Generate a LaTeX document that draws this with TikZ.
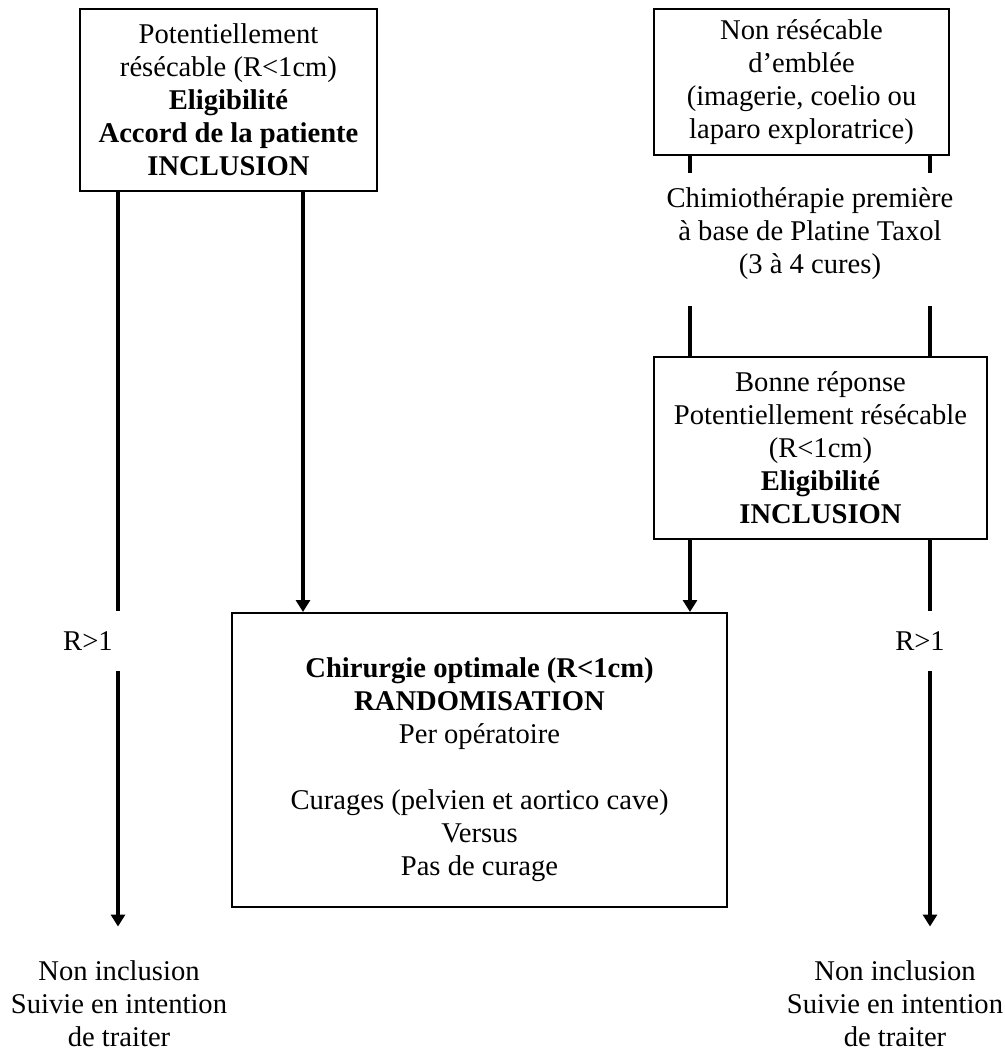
\documentclass[tikz,border=0pt]{standalone}
\usepackage{fontspec}
\setmainfont{Liberation Serif}
\usetikzlibrary{arrows.meta}

\begin{document}
\begin{tikzpicture}[x=0.5pt,y=-0.5pt,%
  font=\fontsize{14.3}{16.5}\selectfont,%
  boite/.style={draw,line width=1pt,inner sep=0pt,align=center},%
  texte/.style={inner sep=0pt,align=center},%
  rsup/.style={inner xsep=0pt,inner ysep=10pt},%
  trait/.style={line width=1.9pt},%
  fleche/.style={trait,-{Triangle[length=6pt,width=7pt]}}]%
\useasboundingbox (0,0) rectangle (1005,1050);%
\coordinate (xg) at (118,0);%
\coordinate (xm) at (303,0);%
\coordinate (xc) at (690,0);%
\coordinate (xd) at (930,0);%
\node [boite,minimum width=148.5pt,minimum height=91pt] (resec) at (228.5,100) {Potentiellement\\résécable (R<1cm)\\\textbf{Eligibilité}\\\textbf{Accord de la patiente}\\\textbf{INCLUSION}};%
\node [boite,minimum width=147.5pt,minimum height=73pt] (nonresec) at (801.5,82) {Non résécable\\d’emblée\\(imagerie, coelio ou\\laparo exploratrice)};%
\node [texte,inner ysep=7.5pt] (chimio) at (810,234) {Chimiothérapie première\\à base de Platine Taxol\\(3 à 4 cures)};%
\node [boite,minimum width=166.5pt,minimum height=91pt] (reponse) at (820.5,448) {Bonne réponse\\Potentiellement résécable\\(R<1cm)\\\textbf{Eligibilité}\\\textbf{INCLUSION}};%
\node [boite,minimum width=247.5pt,minimum height=147pt] (chir) at (479.5,760) {\mbox{}\\[3.4pt]\textbf{Chirurgie optimale (R<1cm)}\\\textbf{RANDOMISATION}\\Per opératoire\\ \\Curages (pelvien et aortico cave)\\Versus\\Pas de curage};%
\node [rsup] (rg) at (88,641) {R>1};%
\node [rsup] (rd) at (920,641) {R>1};%
\node [texte] (nig) at (119,1004) {Non inclusion\\Suivie en intention\\de traiter};%
\node [texte] (nid) at (895,1004) {Non inclusion\\Suivie en intention\\de traiter};%
% colonne gauche
\draw [trait] (resec.south -| xg) -- (rg.north -| xg);%
\draw [fleche,shorten >=17pt] (rg.south -| xg) -- (nig.north -| xg);%
\draw [fleche] (resec.south -| xm) -- (chir.north -| xm);%
% colonne droite
\draw [trait] (nonresec.south -| xc) -- (chimio.north -| xc);%
\draw [trait] (nonresec.south -| xd) -- (chimio.north -| xd);%
\draw [trait,shorten <=5.5pt] (chimio.south -| xc) -- (reponse.north -| xc);%
\draw [trait,shorten <=5.5pt] (chimio.south -| xd) -- (reponse.north -| xd);%
\draw [fleche] (reponse.south -| xc) -- (chir.north -| xc);%
\draw [trait] (reponse.south -| xd) -- (rd.north -| xd);%
\draw [fleche,shorten >=17pt] (rd.south -| xd) -- (nid.north -| xd);%
\end{tikzpicture}
\end{document}
